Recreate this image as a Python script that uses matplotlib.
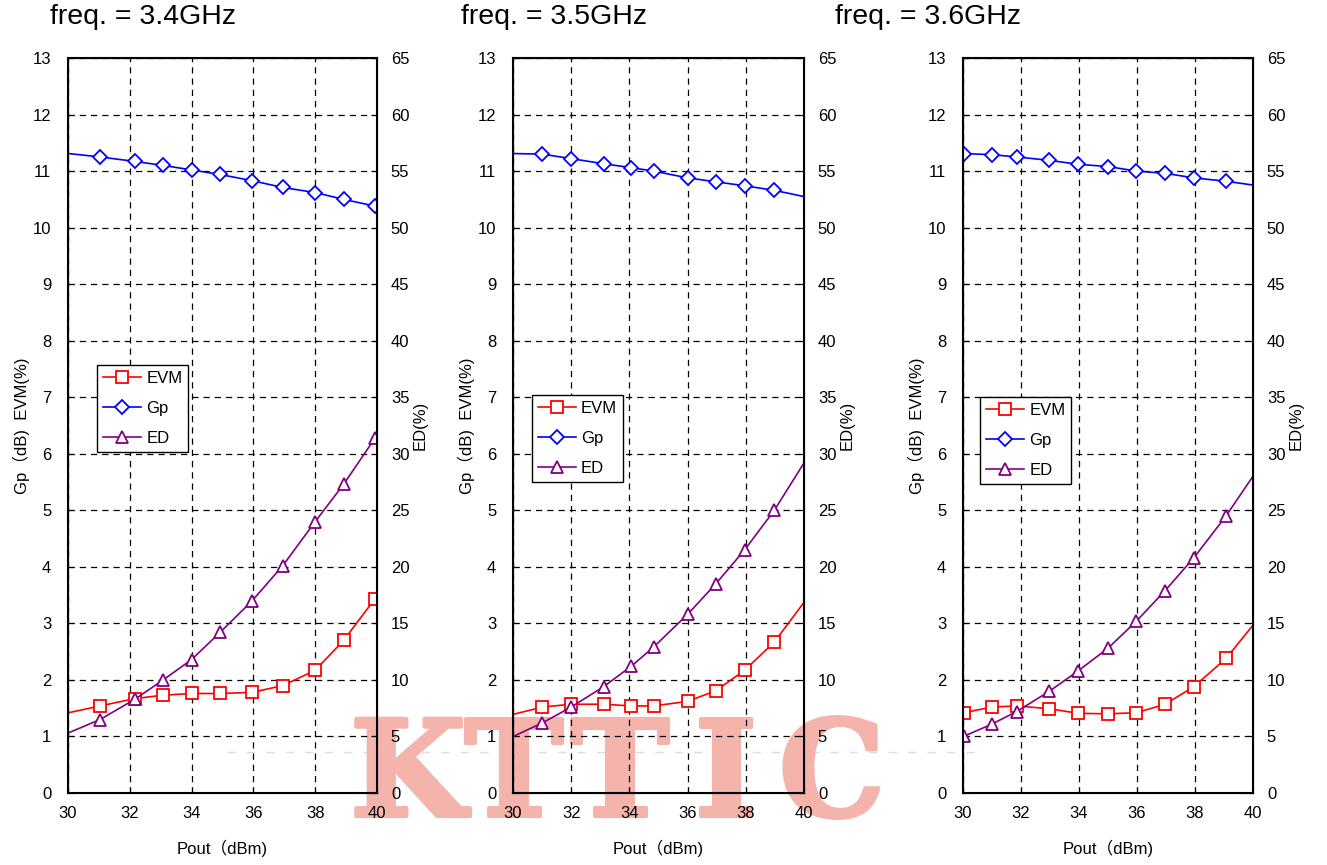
import matplotlib.pyplot as plt
import matplotlib.patheffects as pe
from matplotlib.lines import Line2D

plt.rcParams['font.family'] = ['Liberation Sans', 'Noto Sans CJK SC']

# Pout (dBm) per panel; first / last points lie just outside the 30-40 window
x_34 = [29.0, 31.04, 32.17, 33.08, 34.0, 34.92, 35.96, 36.95, 38.0, 38.92, 39.94]
evm_34 = [1.30, 1.54, 1.67, 1.73, 1.76, 1.76, 1.78, 1.90, 2.17, 2.70, 3.44]
gp_34 = [11.37, 11.25, 11.17, 11.10, 11.02, 10.94, 10.83, 10.71, 10.62, 10.50, 10.38]
ed_34 = [4.15, 6.5, 8.3, 10.0, 11.8, 14.2, 17.0, 20.1, 24.0, 27.3, 31.4]

x_35 = [29.0, 31.01, 32.0, 33.11, 34.06, 34.83, 36.0, 36.97, 37.96, 38.98, 41.0]
evm_35 = [1.26, 1.52, 1.57, 1.57, 1.54, 1.54, 1.62, 1.81, 2.17, 2.67, 4.06]
gp_35 = [11.32, 11.30, 11.22, 11.13, 11.06, 11.00, 10.88, 10.81, 10.74, 10.66, 10.44]
ed_35 = [3.8, 6.2, 7.6, 9.4, 11.2, 12.9, 15.8, 18.5, 21.5, 25.0, 33.3]

x_36 = [30.02, 31.0, 31.85, 32.98, 33.97, 35.0, 35.98, 36.97, 37.96, 39.07, 41.0]
evm_36 = [1.42, 1.52, 1.54, 1.49, 1.41, 1.40, 1.42, 1.57, 1.88, 2.38, 3.60]
gp_36 = [11.31, 11.29, 11.25, 11.19, 11.12, 11.08, 11.00, 10.96, 10.88, 10.82, 10.68]
ed_36 = [5.0, 6.1, 7.2, 9.0, 10.8, 12.8, 15.2, 17.9, 20.8, 24.5, 31.8]

titles = ['freq. = 3.4GHz', 'freq. = 3.5GHz', 'freq. = 3.6GHz']
panels = [(x_34, evm_34, gp_34, ed_34), (x_35, evm_35, gp_35, ed_35), (x_36, evm_36, gp_36, ed_36)]

W, H = 1327, 865
fig = plt.figure(figsize=(W / 100, H / 100), dpi=100)

# axes boxes in pixels: left, right; title x; legend anchor (axes coords)
boxes = [(68, 377, 50, (0.094, 0.582)),
         (513, 804, 461, (0.065, 0.541)),
         (963, 1253, 835, (0.059, 0.539))]
top, bottom = 58, 793
fs = 12

for (xs, evm, gp, ed), (l, r, tx, leg_at), title in zip(panels, boxes, titles):
    ax = fig.add_axes([l / W, (H - bottom) / H, (r - l) / W, (bottom - top) / H])
    ax.set_facecolor('none')
    ax2 = ax.twinx()

    h1, = ax.plot(xs, evm, color='red', lw=1.2, marker='s', ms=8, mfc='white', mec='red', mew=1.3, label='EVM')
    h2, = ax.plot(xs, gp, color='blue', lw=1.2, marker='D', ms=7, mfc='white', mec='blue', mew=1.3, label='Gp')
    h3, = ax2.plot(xs, ed, color='purple', lw=1.2, marker='^', ms=9, mfc='white', mec='purple', mew=1.3, label='ED')

    ax.set_xlim(30, 40)
    ax.set_ylim(0, 13)
    ax2.set_ylim(0, 65)
    ax.set_xticks(range(30, 41, 2))
    ax.set_yticks(range(0, 14))
    ax2.set_yticks(range(0, 66, 5))
    ax.grid(True, color='black', linestyle=(0, (5, 4)), lw=0.9)

    ax.tick_params(axis='both', direction='in', labelsize=fs, length=4)
    ax.tick_params(axis='x', pad=9)
    ax.tick_params(axis='y', pad=12)
    ax2.tick_params(axis='y', direction='in', labelsize=fs, length=4, pad=10)
    for sp in ax2.spines.values():
        sp.set_linewidth(1.5)

    ax.set_xlabel('Pout（dBm)', fontsize=fs, labelpad=14)
    ax.set_ylabel('Gp（dB)  EVM(%)', fontsize=fs, labelpad=2)
    ax2.set_ylabel('ED(%)', fontsize=fs, labelpad=2)

    leg = ax2.legend([h1, h2, h3], ['EVM', 'Gp', 'ED'], loc='upper left', bbox_to_anchor=leg_at,
                     borderaxespad=0, fancybox=False, framealpha=1, edgecolor='black',
                     fontsize=fs, handlelength=2.3, labelspacing=0.9, handletextpad=0.3,
                     borderpad=0.35)
    leg.get_frame().set_linewidth(1.0)

    fig.text(tx / W, 1 - 17 / H, title, fontsize=20.5, ha='left', va='center')

# watermark, drawn underneath the (transparent) axes
fig.add_artist(Line2D([227 / W, 980 / W], [1 - 752 / H] * 2, color='#dddddd', lw=1,
                      linestyle=(0, (6, 8)), zorder=-2))
for i, ch in enumerate('KTTIC'):
    fig.text((408 + 106 * i) / W, 1 - 816 / H, ch, fontsize=96, family='DejaVu Serif',
             weight='bold', color='#f4b4ac', ha='center', va='baseline', zorder=-1,
             path_effects=[pe.withStroke(linewidth=3, foreground='#f4b4ac')])

fig.savefig('out.png', dpi=100)
